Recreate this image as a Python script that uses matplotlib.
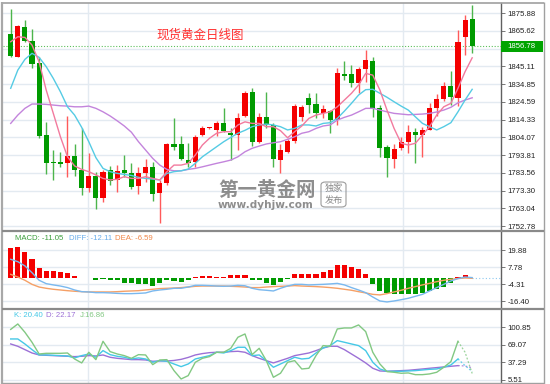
import numpy as np
import matplotlib
matplotlib.use("Agg")
import matplotlib.pyplot as plt
from matplotlib.patches import Rectangle, FancyBboxPatch
from matplotlib.lines import Line2D
import matplotlib.transforms as mtransforms

plt.rcParams['font.family'] = ['Liberation Sans', 'DejaVu Sans']

# ---------------- data ----------------
opens = [1863.6, 1850.6, 1868.0, 1859.9, 1847.2, 1805.4, 1789.8, 1790.0, 1789.0, 1793.4,
         1785.1, 1774.6, 1781.9, 1768.8, 1785.1, 1779.4, 1785.1, 1783.6, 1776.1, 1783.2,
         1786.7, 1771.7, 1777.5, 1800.2, 1800.0, 1790.9, 1789.6, 1805.2, 1809.2, 1808.3,
         1812.1, 1806.7, 1805.4, 1816.4, 1830.4, 1801.5, 1815.6, 1811.2, 1790.9, 1795.7,
         1802.1, 1815.9, 1826.6, 1823.3, 1818.3, 1819.2, 1814.0, 1840.6, 1840.6, 1835.2,
         1843.5, 1848.1, 1820.8, 1798.6, 1791.3, 1798.0, 1801.5, 1807.3, 1805.4, 1808.3,
         1821.2, 1826.2, 1833.7, 1826.9, 1862.2, 1872.2]
highs = [1878.0, 1868.8, 1871.8, 1866.5, 1850.3, 1812.7, 1796.7, 1795.4, 1816.4, 1800.2,
         1809.6, 1794.8, 1783.8, 1785.1, 1787.6, 1788.0, 1793.8, 1789.0, 1787.0, 1791.3,
         1789.6, 1779.4, 1800.6, 1815.0, 1804.8, 1800.9, 1805.4, 1810.6, 1809.8, 1813.6,
         1820.8, 1809.2, 1817.9, 1831.0, 1832.4, 1817.9, 1830.4, 1812.1, 1800.2, 1802.9,
         1823.3, 1822.7, 1829.5, 1829.5, 1822.7, 1819.8, 1843.9, 1848.3, 1845.8, 1844.8,
         1854.5, 1850.6, 1822.7, 1799.6, 1800.0, 1804.4, 1811.2, 1809.2, 1810.2, 1824.0,
         1829.1, 1836.2, 1842.5, 1866.1, 1874.7, 1880.5]
lows = [1850.3, 1850.2, 1859.3, 1843.9, 1803.5, 1782.8, 1779.4, 1787.1, 1781.3, 1781.7,
        1770.7, 1772.6, 1762.4, 1766.8, 1776.5, 1772.6, 1781.3, 1774.0, 1771.1, 1778.4,
        1767.2, 1754.3, 1776.5, 1796.7, 1790.9, 1787.0, 1787.0, 1805.0, 1808.8, 1804.8,
        1807.3, 1790.9, 1796.7, 1815.8, 1799.2, 1800.6, 1809.2, 1787.0, 1783.2, 1794.8,
        1800.9, 1813.6, 1817.9, 1815.4, 1815.0, 1806.7, 1811.2, 1837.2, 1832.9, 1829.8,
        1835.8, 1815.9, 1792.8, 1780.9, 1786.1, 1796.7, 1795.1, 1789.0, 1792.8, 1808.0,
        1816.4, 1825.2, 1822.7, 1822.1, 1851.6, 1852.9]
closes = [1851.0, 1868.4, 1859.5, 1846.4, 1805.0, 1789.4, 1789.0, 1788.8, 1793.4, 1785.0,
          1774.6, 1781.9, 1769.1, 1783.8, 1779.0, 1784.6, 1783.2, 1775.5, 1783.2, 1787.1,
          1771.1, 1777.5, 1800.0, 1798.6, 1791.3, 1789.4, 1804.4, 1809.2, 1809.5, 1812.5,
          1807.9, 1805.4, 1815.0, 1829.8, 1801.5, 1815.6, 1811.2, 1791.5, 1796.7, 1801.9,
          1822.1, 1821.4, 1822.7, 1818.3, 1820.2, 1814.0, 1841.0, 1839.6, 1835.6, 1843.5,
          1848.7, 1820.2, 1798.0, 1791.9, 1797.3, 1801.5, 1806.9, 1805.4, 1808.3, 1820.8,
          1826.2, 1833.7, 1827.2, 1859.3, 1871.8, 1856.78]

ma5 = [1859.3, 1862.2, 1861.8, 1857.4, 1847.7, 1831.4, 1817.9, 1804.4, 1792.8, 1787.5,
       1785.5, 1784.2, 1782.3, 1780.3, 1779.4, 1779.8, 1781.3, 1780.3, 1780.3, 1781.3,
       1780.3, 1779.4, 1784.2, 1788.0, 1788.0, 1789.0, 1793.8, 1799.6, 1803.5, 1806.4,
       1807.3, 1807.3, 1811.2, 1813.0, 1812.1, 1812.1, 1810.2, 1810.2, 1807.9, 1803.8,
       1807.3, 1810.6, 1815.0, 1816.9, 1817.9, 1818.8, 1821.7, 1825.6, 1829.5, 1834.3,
       1841.0, 1840.0, 1831.4, 1819.8, 1809.2, 1800.6, 1799.6, 1800.6, 1805.4, 1810.2,
       1816.9, 1821.7, 1823.7, 1832.4, 1842.0, 1850.0]
ma10 = [1832.4, 1842.9, 1849.1, 1852.6, 1850.3, 1844.9, 1838.1, 1830.4, 1821.7, 1816.9,
        1809.8, 1801.5, 1792.3, 1786.1, 1784.2, 1783.2, 1782.6, 1782.0, 1780.9, 1780.3,
        1779.9, 1779.4, 1783.2, 1784.2, 1784.7, 1785.7, 1789.0, 1792.8, 1795.7, 1798.6,
        1801.5, 1804.0, 1806.4, 1808.1, 1810.2, 1811.2, 1811.7, 1811.2, 1810.2, 1808.3,
        1809.2, 1811.2, 1811.2, 1810.6, 1812.1, 1812.5, 1815.0, 1819.2, 1823.7, 1828.5,
        1831.6, 1831.8, 1829.5, 1827.2, 1824.6, 1822.1, 1819.8, 1815.9, 1812.1, 1810.2,
        1808.3, 1810.2, 1812.5, 1818.8, 1825.6, 1831.8]
ma20 = [1812.1, 1816.9, 1820.8, 1823.3, 1823.3, 1823.1, 1822.7, 1822.3, 1822.1, 1821.7,
        1821.7, 1822.1, 1820.8, 1818.8, 1816.4, 1813.6, 1810.6, 1807.0, 1801.5, 1796.7,
        1791.9, 1788.0, 1785.5, 1784.7, 1784.7, 1785.5, 1786.1, 1787.0, 1788.0, 1789.0,
        1789.9, 1790.9, 1792.8, 1795.7, 1797.7, 1799.0, 1800.2, 1800.9, 1801.5, 1802.9,
        1804.4, 1806.4, 1807.3, 1809.2, 1810.6, 1811.2, 1814.0, 1815.6, 1816.9, 1818.8,
        1820.8, 1820.8, 1819.8, 1818.8, 1817.9, 1817.5, 1817.1, 1817.3, 1817.5, 1817.9,
        1818.7, 1819.8, 1821.4, 1824.0, 1825.6, 1826.9]

macd_hist = [21.3, 22.5, 19.0, 13.5, 7.1, 5.0, 5.0, 4.5, 3.6, 1.7,
             0.3, 0.2, -1.2, -0.3, -1.2, -1.4, -3.1, -3.6, -3.8, -4.3,
             -5.5, -3.6, -1.2, -1.9, -2.4, -1.4, 1.2, 1.4, 1.4, 1.2,
             1.0, 2.4, 2.4, 2.4, -1.4, -1.4, -3.1, -4.7, -2.6, -0.7,
             2.8, 3.3, 3.1, 3.1, 4.5, 5.9, 9.7, 9.2, 8.1, 6.6,
             2.8, -4.3, -9.0, -10.7, -11.4, -11.4, -11.4, -11.4, -10.7, -9.0,
             -7.8, -5.9, -3.6, 1.2, 2.1, 0.4]
diff = [13.5, 11.8, 8.8, 4.0, -1.4, -3.8, -4.7, -5.5, -6.6, -8.3,
        -9.5, -9.7, -10.2, -10.2, -10.4, -10.7, -10.9, -10.9, -10.7, -10.4,
        -9.0, -8.3, -7.8, -7.1, -7.1, -6.2, -5.0, -5.0, -5.2, -5.5,
        -5.7, -5.5, -5.0, -5.3, -7.1, -8.1, -8.5, -9.0, -7.1, -5.5,
        -4.3, -4.3, -4.7, -4.5, -4.3, -4.0, -3.6, -4.7, -6.6, -8.3,
        -10.2, -13.3, -16.1, -16.8, -16.1, -15.2, -14.2, -12.8, -11.4, -9.0,
        -6.6, -4.3, -1.9, -0.2, 0.9, 0.5]
dea = [2.8, 0.9, -1.4, -4.3, -6.2, -7.1, -7.8, -8.3, -8.8, -9.2,
       -9.5, -9.7, -9.7, -9.7, -9.7, -9.5, -9.2, -9.0, -8.8, -8.3,
       -7.8, -7.3, -7.1, -6.9, -6.6, -6.2, -5.7, -5.5, -5.5, -5.5,
       -5.5, -5.7, -5.9, -6.2, -6.6, -6.6, -6.2, -5.9, -5.7, -5.5,
       -5.2, -5.5, -5.7, -5.9, -6.2, -6.6, -7.1, -7.8, -8.5, -9.5,
       -10.4, -11.4, -11.8, -10.9, -9.7, -8.5, -7.1, -5.9, -4.7, -3.6,
       -2.4, -1.4, -0.7, -0.2, 0.2, 0.0]

k_vals = [79.6, 79.6, 70.5, 60.2, 50.5, 50.5, 49.9, 49.3, 48.7, 45.1,
          49.3, 52.3, 46.3, 58.4, 51.1, 48.1, 46.3, 43.2, 45.1, 43.2,
          37.2, 40.2, 39.0, 34.1, 29.3, 34.1, 43.2, 46.3, 49.3, 55.4,
          54.1, 58.4, 64.5, 64.5, 49.3, 50.5, 40.2, 28.1, 34.1, 40.2,
          46.3, 43.2, 44.4, 54.1, 63.2, 67.5, 76.6, 73.6, 70.5, 67.5,
          58.4, 37.2, 25.0, 20.8, 20.8, 20.8, 21.4, 22.0, 23.2, 24.4,
          25.0, 28.1, 32.3, 43.2, 31.1, 20.4]
d_vals = [70.5, 66.3, 60.2, 54.1, 50.5, 49.9, 49.3, 48.7, 48.1, 47.5,
          48.1, 49.3, 48.7, 50.5, 46.3, 44.4, 43.2, 42.0, 42.0, 41.4,
          39.0, 39.6, 39.5, 40.5, 42.5, 46.0, 50.5, 53.0, 54.7, 55.4,
          55.4, 56.6, 57.2, 55.4, 49.3, 44.4, 40.2, 36.0, 40.2, 44.4,
          49.3, 51.7, 54.1, 58.4, 63.2, 66.3, 66.3, 60.2, 52.3, 44.4,
          36.0, 26.3, 21.4, 20.8, 21.4, 22.0, 22.6, 23.8, 25.0, 26.3,
          27.5, 28.7, 29.9, 31.1, 30.5, 27.0]
j_vals = [97.0, 106.9, 91.8, 73.6, 52.3, 53.5, 53.5, 53.5, 54.1, 43.2,
          36.0, 55.4, 42.0, 75.4, 56.6, 52.3, 49.3, 44.4, 51.1, 50.5,
          32.9, 41.4, 42.0, 22.0, 6.8, 12.9, 37.2, 44.4, 47.5, 55.4,
          55.4, 62.6, 82.7, 88.7, 51.1, 62.6, 40.2, 9.9, 17.2, 37.2,
          40.2, 25.0, 26.3, 49.3, 67.5, 66.3, 97.8, 99.6, 99.6, 105.1,
          93.0, 55.4, 34.1, 20.2, 19.0, 17.2, 17.8, 14.7, 14.7, 16.0,
          19.0, 28.1, 38.4, 75.4, 55.4, 16.86]

price_ticks = [1875.88, 1865.62, 1845.11, 1834.85, 1824.59, 1814.33, 1804.07,
               1793.81, 1783.56, 1773.30, 1763.04, 1752.78]
price_grid_extra = [1855.36]
last_price = 1856.78
macd_ticks = [19.88, 7.78, -4.31, -16.40]
kdj_ticks = [100.85, 69.07, 37.29, 5.51]

title_text = "现货黄金日线图"
ma_labels = ["MA5: 1849.96", "MA10: 1831.70", "MA20: 1826.72"]
macd_labels = ["MACD: -11.05", "DIFF: -12.11", "DEA: -6.59"]
kdj_labels = ["K: 20.40", "D: 22.17", "J:16.86"]

# ---------------- styles ----------------
RED = '#f40000'
GREEN = '#009a00'
RED_W = '#ff5a5a'
GREEN_W = '#4cb54c'
C_MA5 = '#f27a9e'
C_MA10 = '#55cbe4'
C_MA20 = '#c384dc'
C_DIFF = '#7ab8ee'
C_DEA = '#f5a066'
C_K = '#45c8e6'
C_D = '#9c70d6'
C_J = '#82c882'
GRID = '#e3eaf1'

W, H = 550, 384
fig = plt.figure(figsize=(5.5, 3.84), dpi=100)
fig.patch.set_facecolor('white')


def fx(px):
    return px / W


def fy(py):
    return 1 - py / H


X0, X1 = 3, 501
ax1 = fig.add_axes([fx(X0), fy(231), (X1 - X0) / W, (231 - 3) / H])
ax2 = fig.add_axes([fx(X0), fy(308), (X1 - X0) / W, (308 - 231) / H])
ax3 = fig.add_axes([fx(X0), fy(383), (X1 - X0) / W, (383 - 309) / H])

n = len(closes)
x = np.arange(n)
o = np.array(opens); c = np.array(closes); h = np.array(highs); l = np.array(lows)
up = c >= o

for ax in (ax1, ax2, ax3):
    ax.set_xlim(-1.085, 69.06)
    for s in ax.spines.values():
        s.set_visible(False)
    ax.spines['right'].set_visible(True)
    ax.spines['right'].set_color('#606060')
    ax.spines['right'].set_linewidth(1.0)
    ax.set_xticks([])
    ax.yaxis.tick_right()
    ax.tick_params(axis='y', direction='out', length=3, width=0.7, color='#777777',
                   pad=1.5, labelsize=5.6, labelcolor='#222222')
    for gx in (10.89, 55.2):
        ax.axvline(gx, color=GRID, lw=1.0, zorder=0)

# ---------- main panel ----------
ax1.set_ylim(1749.9, 1881.7)
ax1.set_yticks(price_ticks)
ax1.set_yticklabels([f"{v:.2f}" for v in price_ticks])
for v in price_ticks + price_grid_extra:
    ax1.axhline(v, color=GRID, lw=1.0, zorder=0)

ax1.axhline(last_price, color='#5cbf5c', lw=0.8, ls=(0, (1, 1.6)), zorder=1)

ax1.vlines(x, l, h, colors=np.where(up, RED_W, GREEN_W), lw=1.0, zorder=2)
body = np.maximum(np.abs(c - o), 0.55)
ax1.bar(x, body, bottom=np.minimum(o, c), width=0.72,
        color=np.where(up, RED, GREEN), linewidth=0, zorder=3)

ax1.plot(x, ma20, color=C_MA20, lw=1.0, zorder=4)
ax1.plot(x, ma10, color=C_MA10, lw=1.0, zorder=4)
ax1.plot(x, ma5, color=C_MA5, lw=1.0, zorder=4)

# current price box
bt = mtransforms.blended_transform_factory(ax1.transAxes, ax1.transData)
half = 5.5 / 1.7303
ax1.add_patch(Rectangle((1.0, last_price - half), (543 - 501) / 498, 2 * half,
                        transform=bt, facecolor='#00a400', edgecolor='none',
                        clip_on=False, zorder=6))
ax1.text(1.012, last_price, f"{last_price:.2f}", transform=bt, ha='left', va='center',
         fontsize=5.6, color='white', zorder=7, clip_on=False)

# title
fig.text(fx(200), fy(35), title_text, ha='center', va='center', fontsize=9,
         color='#ff3030', family=['Noto Sans CJK SC', 'DejaVu Sans'])

# top (cut) MA legend
for txt, col, px in zip(ma_labels, [C_MA5, C_MA10, C_MA20], [15, 74, 138]):
    fig.text(fx(px), fy(-2.2), txt, ha='left', va='center', fontsize=5.6, color=col)

# watermark
fig.text(fx(218), fy(191), "第一黄金网", ha='left', va='center', fontsize=14,
         fontweight='bold', color='#7a7a7a', alpha=0.85,
         family=['Noto Sans CJK SC', 'DejaVu Sans'])
fig.text(fx(218), fy(204.5), "www.dyhjw.com", ha='left', va='center', fontsize=7.6,
         fontweight='bold', color='#7a7a7a', alpha=0.85, family=['DejaVu Sans'])
fig.add_artist(FancyBboxPatch((fx(321), fy(207)), fx(346) - fx(321), fy(182) - fy(207),
                              boxstyle='round,pad=0,rounding_size=0.008',
                              transform=fig.transFigure, facecolor='none',
                              edgecolor='#8a8a8a', lw=0.8, alpha=0.85))
fig.text(fx(333.5), fy(188.5), "独家", ha='center', va='center', fontsize=6.6,
         color='#7a7a7a', alpha=0.9, family=['Noto Sans CJK SC', 'DejaVu Sans'])
fig.text(fx(333.5), fy(200.5), "发布", ha='center', va='center', fontsize=6.6,
         color='#7a7a7a', alpha=0.9, family=['Noto Sans CJK SC', 'DejaVu Sans'])

# ---------- MACD panel ----------
ax2.set_ylim(-21.1, 33.6)
ax2.set_yticks(macd_ticks)
ax2.set_yticklabels([f"{v:.2f}" for v in macd_ticks])
for v in macd_ticks:
    ax2.axhline(v, color=GRID, lw=1.0, zorder=0)
mh = np.array(macd_hist)
ax2.bar(x, mh, width=0.72, color=np.where(mh >= 0, RED, GREEN), linewidth=0, zorder=2)
ax2.plot(x, dea, color=C_DEA, lw=1.0, zorder=3)
ax2.plot(x, diff, color=C_DIFF, lw=1.0, zorder=3)
ax2.plot([x[-1], 69.06], [0, 0], color='#8cc8f0', lw=0.8, ls=(0, (1, 2)), zorder=1)
for txt, col, px in zip(macd_labels, ['#3c9e3c', '#68acea', '#f0884a'], [15, 69, 115]):
    fig.text(fx(px), fy(238), txt, ha='left', va='center', fontsize=5.6, color=col)

# ---------- KDJ panel ----------
ax3.set_ylim(-0.5, 134.1)
ax3.set_yticks(kdj_ticks)
ax3.set_yticklabels([f"{v:.2f}" for v in kdj_ticks])
for v in kdj_ticks:
    ax3.axhline(v, color=GRID, lw=1.0, zorder=0)
for vals, col in ((d_vals, C_D), (k_vals, C_K), (j_vals, C_J)):
    ax3.plot(x[:64], vals[:64], color=col, lw=1.0, zorder=3)
    ax3.plot(x[63:], vals[63:], color=col, lw=0.9, ls=(0, (1.5, 1.5)), alpha=0.8, zorder=3)
for txt, col, px in zip(kdj_labels, [C_K, C_D, C_J], [14, 46, 80]):
    fig.text(fx(px), fy(315.5), txt, ha='left', va='center', fontsize=5.6, color=col)

# ---------- frame ----------
def fline(x0, y0, x1, y1, color, lw):
    fig.add_artist(Line2D([fx(x0), fx(x1)], [fy(y0), fy(y1)], transform=fig.transFigure,
                          color=color, lw=lw, solid_capstyle='butt'))


fline(2, 2.5, 544, 2.5, '#a0a0a0', 1.2)
fline(1.5, 2, 1.5, 384, '#a8a8a8', 1.6)
fline(543.5, 2, 543.5, 384, '#a0a0a0', 1.0)
fline(2, 231, 544, 231, '#8a8a8a', 1.6)
fline(2, 308.5, 544, 308.5, '#8a8a8a', 1.6)
fline(2, 383, 544, 383, '#a0a0a0', 1.0)

fig.savefig("out.png", dpi=100, facecolor='white')
